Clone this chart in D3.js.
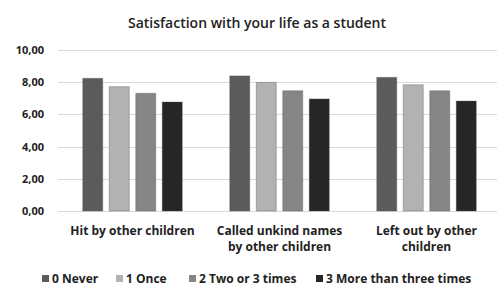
<!DOCTYPE html>
<html>
<head>
<meta charset="utf-8">
<script src="https://cdn.jsdelivr.net/npm/d3@7"></script>
<style>
  body { margin: 0; background: #fff; }
  svg { display: block; font-family: "Open Sans", sans-serif; }
</style>
</head>
<body>
<div id="chart"></div>
<script>
// categories and series
const categories = [
  ['Hit by other children'],
  ['Called unkind names', 'by other children'],
  ['Left out by other', 'children']
];
const series = ['0 Never', '1 Once', '2 Two or 3 times', '3 More than three times'];
const neverVals = [8.24, 8.39, 8.30];
const onceVals = [7.72, 7.99, 7.84];
const twoThreeVals = [7.31, 7.47, 7.47];
const moreVals = [6.77, 6.96, 6.83];
const yTicks = [0, 2, 4, 6, 8, 10];

const colors = ['#5b5b5b', '#b2b2b2', '#868686', '#262626'];
const values = [neverVals, onceVals, twoThreeVals, moreVals];

const width = 497, height = 286;
const svg = d3.select('#chart').append('svg')
  .attr('width', width)
  .attr('height', height);

const catKeys = categories.map(c => c.join(' '));

// X scales
const x0 = d3.scaleBand()
  .domain(catKeys)
  .range([59, 500])
  .padding(0);

const x1 = d3.scaleBand()
  .domain(series)
  .range([0, 106])
  .paddingInner(0.245)
  .paddingOuter(0.1225);

// Y scale
const y = d3.scaleLinear()
  .domain([0, 10])
  .range([211, 50]);

// Title
svg.append('text')
  .attr('x', 257)
  .attr('y', 28)
  .attr('text-anchor', 'middle')
  .attr('font-size', 14)
  .attr('font-weight', 600)
  .attr('fill', '#222')
  .text('Satisfaction with your life as a student');

// Grid lines
svg.append('g')
  .selectAll('line')
  .data(yTicks)
  .enter()
  .append('line')
  .attr('x1', 58)
  .attr('x2', width)
  .attr('y1', d => Math.round(y(d)) + 0.5)
  .attr('y2', d => Math.round(y(d)) + 0.5)
  .attr('stroke', '#dadada')
  .attr('stroke-width', 1);

// Y axis labels
const yAxis = svg.append('g')
  .attr('transform', 'translate(44,0)')
  .call(d3.axisLeft(y).tickValues(yTicks).tickSize(0).tickPadding(0)
    .tickFormat(d => d3.format('.2f')(d).replace('.', ',')));
yAxis.select('.domain').remove();
yAxis.selectAll('text')
  .attr('font-size', 11)
  .attr('font-weight', 700)
  .attr('fill', '#222')
  .attr('font-family', '"Open Sans", sans-serif');

// Bars
const groups = svg.append('g')
  .selectAll('g')
  .data(catKeys)
  .enter()
  .append('g')
  .attr('transform', d => `translate(${x0(d) + (x0.bandwidth() - 106) / 2},0)`);

groups.selectAll('rect')
  .data((d, i) => series.map((s, j) => ({ s, v: values[j][i], c: colors[j] })))
  .enter()
  .append('rect')
  .attr('x', d => x1(d.s))
  .attr('y', d => y(d.v))
  .attr('width', x1.bandwidth())
  .attr('height', d => y(0) - y(d.v))
  .attr('fill', d => d.c)
  .attr('stroke', '#4a4a4a')
  .attr('stroke-opacity', 0.35)
  .attr('stroke-width', 1);

// X labels
const xl = svg.append('g')
  .selectAll('text')
  .data(categories)
  .enter()
  .append('text')
  .attr('x', (d, i) => x0(catKeys[i]) + x0.bandwidth() / 2)
  .attr('y', 235)
  .attr('text-anchor', 'middle')
  .attr('font-size', 12)
  .attr('font-weight', 700)
  .attr('fill', '#222');
xl.selectAll('tspan')
  .data(d => d)
  .enter()
  .append('tspan')
  .attr('x', function () { return d3.select(this.parentNode).attr('x'); })
  .attr('dy', (d, i) => i === 0 ? 0 : 16)
  .text(d => d);

// Legend
const legendX = [42, 116, 189, 316];
const legend = svg.append('g')
  .selectAll('g')
  .data(series)
  .enter()
  .append('g')
  .attr('transform', (d, i) => `translate(${legendX[i]},279)`);
legend.append('rect')
  .attr('x', 0)
  .attr('y', -4)
  .attr('width', 7)
  .attr('height', 7)
  .attr('fill', (d, i) => colors[i]);
legend.append('text')
  .attr('x', 10)
  .attr('y', 4)
  .attr('font-size', 12)
  .attr('font-weight', 700)
  .attr('fill', '#222')
  .text(d => d);
</script>
</body>
</html>
